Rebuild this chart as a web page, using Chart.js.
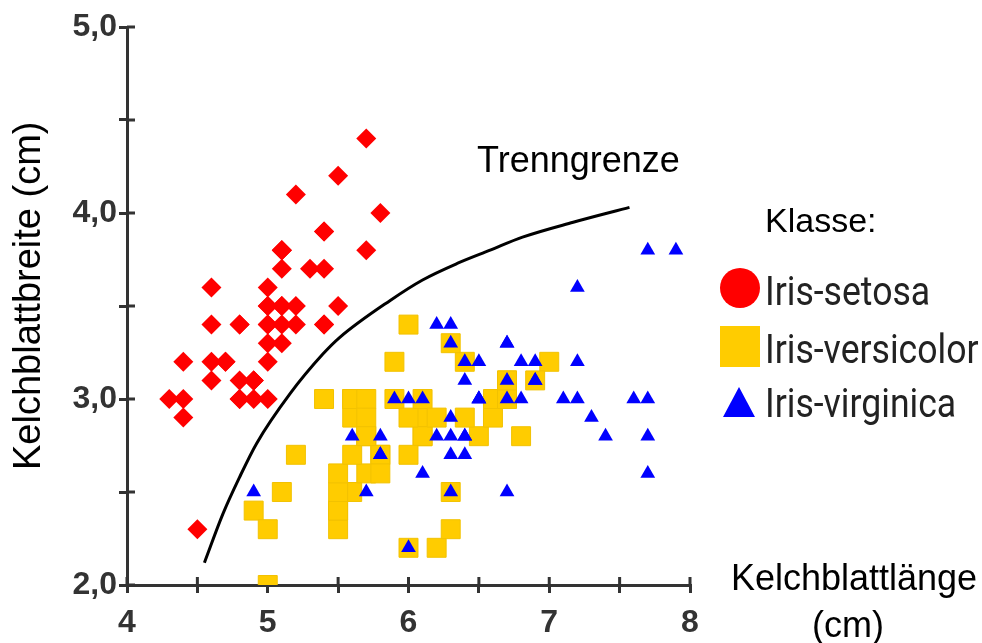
<!DOCTYPE html>
<html>
<head>
<meta charset="utf-8">
<script src="https://cdn.jsdelivr.net/npm/chart.js@4.4.0/dist/chart.umd.min.js"></script>
<style>
  body { margin: 0; background: #fff; }
  canvas { display: block; }
</style>
</head>
<body>
<canvas id="irisChart" width="982" height="643"></canvas>
<script>
// Kelchblattlänge / Kelchblattbreite per class (cm)
const setosaLength = [5.1,4.9,4.7,4.6,5.0,5.4,4.6,5.0,4.4,4.9,5.4,4.8,4.8,4.3,5.8,5.7,5.4,5.1,5.7,5.1,5.4,5.1,4.6,5.1,4.8,5.0,5.0,5.2,5.2,4.7,4.8,5.4,5.2,5.5,4.9,5.0,5.5,4.9,4.4,5.1,5.0,4.5,4.4,5.0,5.1,4.8,5.1,4.6,5.3,5.0];
const setosaWidth = [3.5,3.0,3.2,3.1,3.6,3.9,3.4,3.4,2.9,3.1,3.7,3.4,3.0,3.0,4.0,4.4,3.9,3.5,3.8,3.8,3.4,3.7,3.6,3.3,3.4,3.0,3.4,3.5,3.4,3.2,3.1,3.4,4.1,4.2,3.1,3.2,3.5,3.1,3.0,3.4,3.5,2.3,3.2,3.5,3.8,3.0,3.8,3.2,3.7,3.3];

const versicolorLength = [7.0,6.4,6.9,5.5,6.5,5.7,6.3,4.9,6.6,5.2,5.0,5.9,6.0,6.1,5.6,6.7,5.6,5.8,6.2,5.6,5.9,6.1,6.3,6.1,6.4,6.6,6.8,6.7,6.0,5.7,5.5,5.5,5.8,6.0,5.4,6.0,6.7,6.3,5.6,5.5,5.5,6.1,5.8,5.0,5.6,5.7,5.7,6.2,5.1,5.7];
const versicolorWidth = [3.2,3.2,3.1,2.3,2.8,2.8,3.3,2.4,2.9,2.7,2.0,3.0,2.2,2.9,2.9,3.1,3.0,2.7,2.2,2.5,3.2,2.8,2.5,2.8,2.9,3.0,2.8,3.0,2.9,2.6,2.4,2.4,2.7,2.7,3.0,3.4,3.1,2.3,3.0,2.5,2.6,3.0,2.6,2.3,2.7,3.0,2.9,2.9,2.5,2.8];

const virginicaLength = [6.3,5.8,7.1,6.3,6.5,7.6,4.9,7.3,6.7,7.2,6.5,6.4,6.8,5.7,5.8,6.4,6.5,7.7,7.7,6.0,6.9,5.6,7.7,6.3,6.7,7.2,6.2,6.1,6.4,7.2,7.4,7.9,6.4,6.3,6.1,7.7,6.3,6.4,6.0,6.9,6.7,6.9,5.8,6.8,6.7,6.7,6.3,6.5,6.2,5.9];
const virginicaWidth = [3.3,2.7,3.0,2.9,3.0,3.0,2.5,2.9,2.5,3.6,3.2,2.7,3.0,2.5,2.8,3.2,3.0,3.8,2.6,2.2,3.2,2.8,2.8,2.7,3.3,3.2,2.8,3.0,2.8,3.0,2.8,3.8,2.8,2.8,2.6,3.0,3.4,3.1,3.0,3.1,3.1,3.1,2.7,3.2,3.3,3.0,2.5,3.0,3.4,3.0];

// Trenngrenze
const boundaryX = [4.55, 4.68, 4.80, 4.92, 5.16, 5.39, 5.51, 5.87, 6.10, 6.35, 6.58, 6.81, 7.17, 7.57];
const boundaryY = [2.12, 2.38, 2.58, 2.76, 3.03, 3.24, 3.33, 3.53, 3.64, 3.73, 3.80, 3.87, 3.95, 4.03];

const classNames = ["Iris-setosa", "Iris-versicolor", "Iris-virginica"];

const axisColor = "#333";
const red = "#ff0000";
const yellow = "#ffcc00";
const blue = "#0000ff";

function toPoints(xs, ys) {
    return xs.map((x, i) => ({ x: x, y: ys[i] }));
}

Chart.defaults.font.family = "'Liberation Sans', Arial, sans-serif";

// tick marks cross the axis, Chart.js only draws the outer half
const innerTicks = {
    id: "innerTicks",
    beforeDatasetsDraw(chart) {
        const { ctx, chartArea, scales } = chart;
        ctx.save();
        ctx.strokeStyle = axisColor;
        ctx.lineWidth = 3;
        ctx.beginPath();
        scales.x.ticks.forEach(t => {
            const px = scales.x.getPixelForValue(t.value);
            ctx.moveTo(px, chartArea.bottom);
            ctx.lineTo(px, chartArea.bottom - 8);
        });
        scales.y.ticks.forEach(t => {
            const py = scales.y.getPixelForValue(t.value);
            ctx.moveTo(chartArea.left, py);
            ctx.lineTo(chartArea.left + 8, py);
        });
        ctx.stroke();
        ctx.restore();
    }
};

const labels = {
    id: "labels",
    afterDraw(chart) {
        const ctx = chart.ctx;
        ctx.save();
        ctx.fillStyle = "#000";
        ctx.textBaseline = "alphabetic";

        // y axis title
        ctx.save();
        ctx.translate(40, 470);
        ctx.rotate(-Math.PI / 2);
        ctx.font = "38px 'Liberation Sans', Arial, sans-serif";
        ctx.textAlign = "left";
        ctx.fillText("Kelchblattbreite (cm)", 0, 0);
        ctx.restore();

        // x axis title
        ctx.font = "36px 'Liberation Sans', Arial, sans-serif";
        ctx.textAlign = "center";
        ctx.fillText("Kelchblattlänge", 854, 590);
        ctx.fillText("(cm)", 848, 637);

        ctx.textAlign = "left";
        ctx.fillText("Trenngrenze", 477, 172);
        ctx.font = "34px 'Liberation Sans', Arial, sans-serif";
        ctx.fillText("Klasse:", 765, 232);

        // legend markers
        ctx.fillStyle = red;
        ctx.beginPath();
        ctx.arc(740, 288, 20, 0, Math.PI * 2);
        ctx.fill();

        ctx.fillStyle = yellow;
        ctx.fillRect(720, 326, 40, 41);

        ctx.fillStyle = blue;
        ctx.beginPath();
        ctx.moveTo(723, 417);
        ctx.lineTo(755, 417);
        ctx.lineTo(739, 387);
        ctx.closePath();
        ctx.fill();

        // legend texts, narrow face
        ctx.fillStyle = "#222";
        ctx.font = "40px Roboto, 'Liberation Sans', sans-serif";
        const baselines = [305, 363, 417];
        classNames.forEach((name, i) => {
            ctx.save();
            ctx.translate(765, baselines[i]);
            ctx.scale(0.89, 1);
            ctx.fillText(name, 0, 0);
            ctx.restore();
        });
        ctx.restore();
    }
};

new Chart(document.getElementById("irisChart"), {
    type: "scatter",
    data: {
        datasets: [
            {
                label: classNames[0],
                data: toPoints(setosaLength, setosaWidth),
                pointStyle: "rectRot",
                pointRadius: 10,
                backgroundColor: red,
                borderWidth: 0,
                order: 3
            },
            {
                label: classNames[1],
                data: toPoints(versicolorLength, versicolorWidth),
                pointStyle: "rect",
                pointRadius: 13.4,
                backgroundColor: yellow,
                borderColor: "#f2c200",
                borderWidth: 1,
                order: 2
            },
            {
                label: classNames[2],
                data: toPoints(virginicaLength, virginicaWidth),
                pointStyle: "triangle",
                pointRadius: 8.5,
                backgroundColor: blue,
                borderWidth: 0,
                order: 1
            },
            {
                label: "Trenngrenze",
                type: "line",
                data: toPoints(boundaryX, boundaryY),
                borderColor: "#000",
                borderWidth: 3,
                pointRadius: 0,
                cubicInterpolationMode: "monotone",
                fill: false,
                order: 0
            }
        ]
    },
    options: {
        responsive: false,
        animation: false,
        layout: { padding: { left: 0, top: 27, right: 292, bottom: 0 } },
        plugins: {
            legend: { display: false },
            tooltip: { enabled: false }
        },
        scales: {
            x: {
                type: "linear",
                min: 4,
                max: 8,
                afterFit(scale) { scale.height = 58; },
                ticks: {
                    stepSize: 0.5,
                    autoSkip: false,
                    maxRotation: 0,
                    padding: 11,
                    color: axisColor,
                    font: { size: 32, weight: "bold" },
                    callback: v => Number.isInteger(v) ? String(v) : ""
                },
                grid: { drawOnChartArea: false, tickLength: 8, color: axisColor, lineWidth: 3 },
                border: { color: axisColor, width: 3 }
            },
            y: {
                type: "linear",
                min: 2,
                max: 5,
                afterFit(scale) { scale.width = 127; },
                ticks: {
                    stepSize: 0.5,
                    autoSkip: false,
                    padding: 2,
                    color: axisColor,
                    font: { size: 32, weight: "bold" },
                    callback: v => Number.isInteger(v) ? v.toFixed(1).replace(".", ",") : ""
                },
                grid: { drawOnChartArea: false, tickLength: 8, color: axisColor, lineWidth: 3 },
                border: { color: axisColor, width: 3 }
            }
        }
    },
    plugins: [innerTicks, labels]
});
</script>
</body>
</html>
